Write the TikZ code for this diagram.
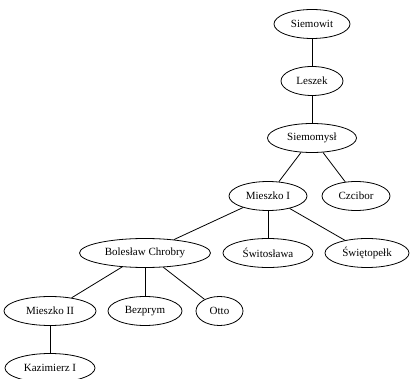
\documentclass[tikz,border=0pt]{standalone}
\usepackage{fontspec}
\setmainfont{Liberation Serif}
\usetikzlibrary{shapes.geometric}
\begin{document}
\begin{tikzpicture}[x=1pt,y=-1pt,
  person/.style={draw, ellipse, line width=0.8pt, inner sep=0pt, minimum height=29pt, font=\fontsize{11}{13}\selectfont},
  link/.style={draw, line width=0.8pt}]
\useasboundingbox (0,0) rectangle (410,379);
\node[person, minimum width=76pt] (siemowit) at (312,24) {Siemowit};
\node[person, minimum width=62pt] (leszek) at (312,81) {Leszek};
\node[person, minimum width=89pt] (siemomysl) at (312,138) {Siemomysł};
\node[person, minimum width=78pt] (mieszko1) at (268,196) {Mieszko I};
\node[person, minimum width=68pt] (czcibor) at (356,196) {Czcibor};
\node[person, minimum width=131pt] (boleslaw) at (145,253) {Bolesław Chrobry};
\node[person, minimum width=90pt] (switoslawa) at (268,253) {Świtosława};
\node[person, minimum width=84pt] (swietopelk) at (367,253) {Świętopełk};
\node[person, minimum width=92pt] (mieszko2) at (50,311) {Mieszko II};
\node[person, minimum width=74pt] (bezprym) at (145,311) {Bezprym};
\node[person, minimum width=47pt] (otto) at (219.5,311) {Otto};
\node[person, minimum width=90pt] (kazimierz) at (50,368) {Kazimierz I};
\draw[link] (siemowit) -- (leszek);
\draw[link] (leszek) -- (siemomysl);
\draw[link] (siemomysl) -- (mieszko1);
\draw[link] (siemomysl) -- (czcibor);
\draw[link] (mieszko1) -- (boleslaw);
\draw[link] (mieszko1) -- (switoslawa);
\draw[link] (mieszko1) -- (swietopelk);
\draw[link] (boleslaw) -- (mieszko2);
\draw[link] (boleslaw) -- (bezprym);
\draw[link] (boleslaw) -- (otto);
\draw[link] (mieszko2) -- (kazimierz);
\end{tikzpicture}
\end{document}
